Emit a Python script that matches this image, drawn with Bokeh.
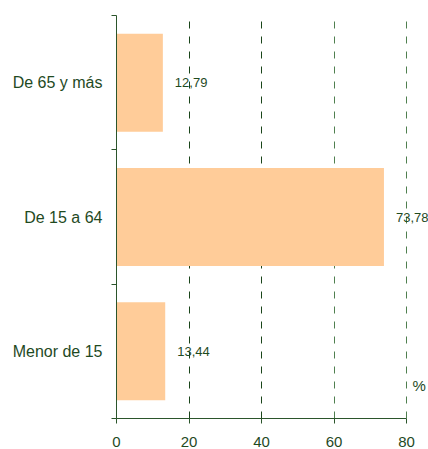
from bokeh.plotting import figure
from bokeh.models import (Range1d, FixedTicker, LinearAxis, Grid, LabelSet,
                          ColumnDataSource, Label)
from bokeh.core.properties import value
from bokeh.embed import file_html
from bokeh.resources import INLINE

# ---- data ----
categories = ["De 65 y más", "De 15 a 64", "Menor de 15"]
values = [12.79, 73.78, 13.44]
value_labels = ["12,79", "73,78", "13,44"]
x_ticks = [0, 20, 40, 60, 80]
unit_label = "%"

TXT = "#1f4a1f"
AX = "#2b552b"
FONT = "Liberation Sans"

n = len(categories)
ypos = [n - i - 0.5 for i in range(n)]
src = ColumnDataSource(dict(y=ypos, v=values, lab=value_labels, cat=categories))

# frame: 116..428 px wide; 0..80 maps to 116..406 px
x_end = 80 * (428 - 116) / (406 - 116)

p = figure(width=428, height=449, output_backend="svg", toolbar_location=None,
           x_range=Range1d(0, x_end), y_range=Range1d(0, n),
           x_axis_location=None, y_axis_location=None,
           min_border_left=116, min_border_right=0, min_border_top=15,
           min_border_bottom=30)
p.outline_line_color = None
p.xgrid.visible = False
p.ygrid.visible = False

# grids (dashed)
g1 = Grid(dimension=0, ticker=FixedTicker(ticks=[t for t in x_ticks if 0 < t <= 40]),
          grid_line_color="#1a451a", grid_line_dash="7 8", grid_line_width=1)
g2 = Grid(dimension=0, ticker=FixedTicker(ticks=[t for t in x_ticks if t > 40]),
          grid_line_color="#4f7f4f", grid_line_dash="7 8", grid_line_width=1)
p.add_layout(g1)
p.add_layout(g2)

p.hbar(y="y", right="v", left=0, height=0.73, source=src,
       fill_color="#ffcc99", line_color=None)

# x axis
xa = LinearAxis(ticker=FixedTicker(ticks=x_ticks, minor_ticks=[]),
                bounds=(x_ticks[0], x_ticks[-1]))
xa.axis_line_color = AX
xa.major_tick_line_color = AX
xa.major_tick_out = 5
xa.major_tick_in = 0
xa.minor_tick_line_color = None
xa.major_label_text_font = FONT
xa.major_label_text_font_size = "15px"
xa.major_label_text_color = TXT
xa.major_label_standoff = 13
p.add_layout(xa, "below")

# y axis: labels at band centers, ticks at band boundaries
ya = LinearAxis(ticker=FixedTicker(ticks=ypos, minor_ticks=list(range(n + 1))))
ya.major_label_overrides = {y: c for y, c in zip(ypos, categories)}
ya.axis_line_color = AX
ya.major_tick_line_color = None
ya.major_tick_out = 0
ya.major_tick_in = 0
ya.minor_tick_line_color = AX
ya.minor_tick_out = 5
ya.minor_tick_in = 0
ya.major_label_text_font = FONT
ya.major_label_text_font_size = "16px"
ya.major_label_text_color = TXT
ya.major_label_standoff = 9
p.add_layout(ya, "left")

labels = LabelSet(x="v", y="y", text="lab", source=src, x_offset=12,
                  text_font=value(FONT), text_font_size=value("13px"),
                  text_color=TXT, text_baseline="middle", text_align="left")
p.add_layout(labels)

p.add_layout(Label(x=x_ticks[-1], y=0.245, text=unit_label, x_offset=6,
                   text_font=FONT, text_font_size="15px", text_color=TXT,
                   text_baseline="middle", text_align="left"))

open("out.html", "w").write(file_html(p, INLINE))
